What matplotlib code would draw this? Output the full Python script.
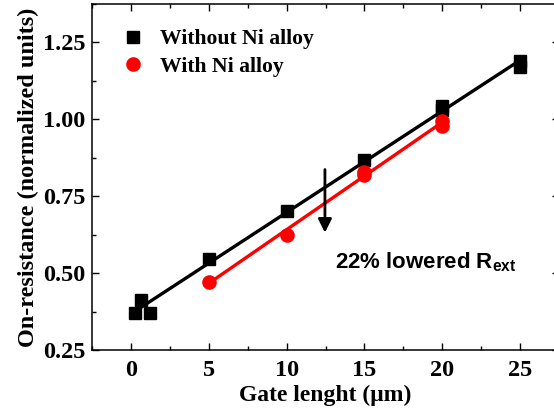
import matplotlib
matplotlib.use("Agg")
import matplotlib.pyplot as plt
import numpy as np
from matplotlib.ticker import MultipleLocator, FormatStrFormatter

# data
gate_wo = [0.26, 0.64, 1.21, 5, 10, 15, 20, 20, 25, 25]
ron_wo = [0.370, 0.413, 0.370, 0.546, 0.703, 0.869, 1.045, 1.030, 1.190, 1.170]
gate_w = [5, 10, 15, 15, 20, 20]
ron_w = [0.473, 0.625, 0.830, 0.820, 0.995, 0.980]

plt.rcParams['mathtext.fontset'] = 'custom'
plt.rcParams['mathtext.bf'] = 'Liberation Sans:bold'
plt.rcParams['mathtext.rm'] = 'Liberation Sans:bold'

serif = {'family': 'Liberation Serif', 'weight': 'bold'}

fig = plt.figure(figsize=(5.54, 4.2), dpi=100)
ax = fig.add_axes([0.1666, 0.1662, 0.8421, 0.8243])

# linear fits
k1, b1 = np.polyfit(gate_wo, ron_wo, 1)
k2, b2 = np.polyfit(gate_w, ron_w, 1)
xf1 = np.array([0.64, max(gate_wo)])
xf2 = np.array([min(gate_w), max(gate_w)])
ax.plot(xf1, k1 * xf1 + b1, color='black', lw=2.4, zorder=2)
ax.plot(xf2, k2 * xf2 + b2, color='red', lw=2.4, zorder=2)

ax.plot(gate_wo, ron_wo, 's', color='black', ms=9, ls='none',
        label='Without Ni alloy', zorder=3)
ax.plot(gate_w, ron_w, 'o', color='red', ms=9.5, ls='none',
        label='With Ni alloy', zorder=3)

ax.set_xlim(-2.5, 27.5)
ax.set_ylim(0.25, 1.375)
ax.xaxis.set_major_locator(MultipleLocator(5))
ax.xaxis.set_minor_locator(MultipleLocator(2.5))
ax.yaxis.set_major_locator(MultipleLocator(0.25))
ax.yaxis.set_minor_locator(MultipleLocator(0.125))
ax.yaxis.set_major_formatter(FormatStrFormatter('%.2f'))
ax.tick_params(which='both', direction='in', top=True, right=True, width=1)
ax.tick_params(which='major', length=5)
ax.tick_params(which='minor', length=3)
ax.tick_params(axis='x', pad=7)
ax.tick_params(axis='y', pad=5)
for lab in ax.get_xticklabels() + ax.get_yticklabels():
    lab.set_fontproperties(serif)
    lab.set_fontsize(17.5)
for sp in ax.spines.values():
    sp.set_linewidth(1.1)

ax.set_xlabel('Gate lenght (\u03bcm)', fontdict=serif, fontsize=17, labelpad=3)
ax.set_ylabel('On-resistance (normalized units)', fontdict=serif, fontsize=17.5, labelpad=3)

ax.legend(loc='upper left', bbox_to_anchor=(0.0635, 0.928), frameon=False,
          prop={'family': 'Liberation Serif', 'weight': 'bold', 'size': 15.6},
          handlelength=1, handletextpad=0.75, borderpad=0, borderaxespad=0,
          labelspacing=0.35, markerscale=1.0)

ax.annotate('', xy=(12.46, 0.632), xytext=(12.46, 0.837),
            arrowprops=dict(arrowstyle='-|>', color='black', lw=2,
                            mutation_scale=20, shrinkA=0, shrinkB=0))
ax.text(13.09, 0.517, r'22% lowered R$_{\mathbf{ext}}$', family='Liberation Sans',
        weight='bold', fontsize=16, ha='left', va='baseline')

fig.savefig('out.png', dpi=100)
